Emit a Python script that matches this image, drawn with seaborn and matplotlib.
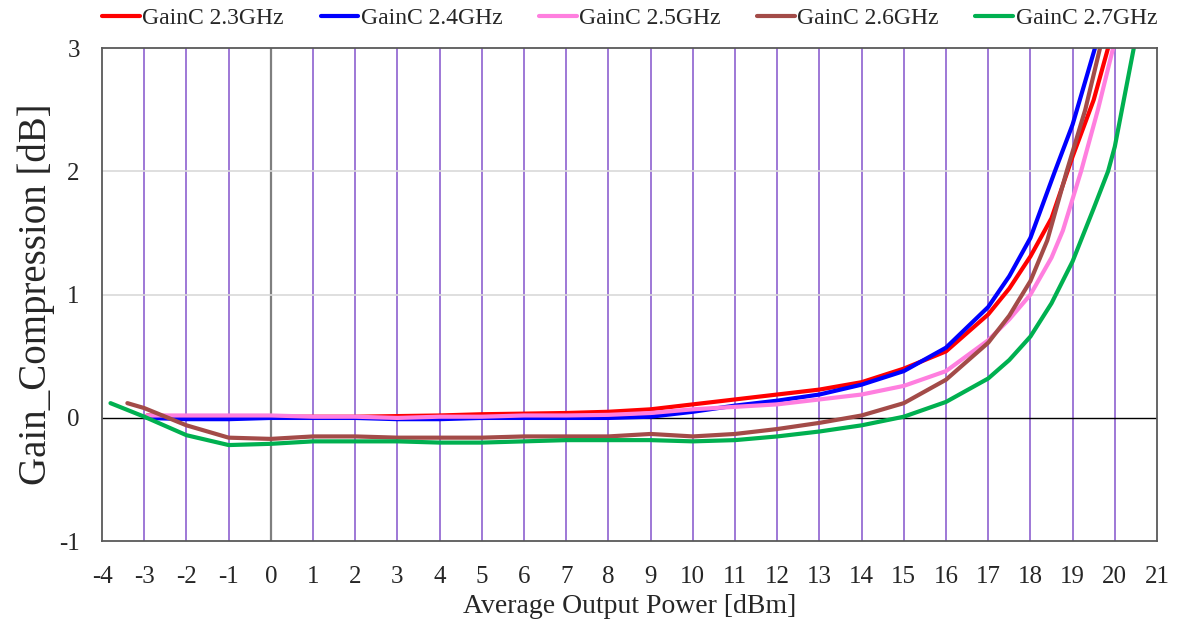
import numpy as np
import pandas as pd
import seaborn as sns
import matplotlib
matplotlib.use('Agg')
from matplotlib import pyplot as plt

# Gain compression vs average output power, one series per frequency
x_23 = [-2.93, -2, -1, 0, 1, 2, 3, 4, 5, 6, 7, 8, 9, 10, 11, 12, 13, 14, 15, 16, 17, 17.5, 18, 18.5, 19, 19.5, 19.84]
y_23 = [0.02, 0.01, 0.01, 0.01, 0.01, 0.01, 0.015, 0.02, 0.03, 0.035, 0.04, 0.05, 0.07, 0.11, 0.15, 0.19, 0.23, 0.29, 0.40, 0.54, 0.84, 1.05, 1.31, 1.62, 2.12, 2.58, 3.0]

x_24 = [-2.93, -2, -1, 0, 1, 2, 3, 4, 5, 6, 7, 8, 9, 10, 11, 12, 13, 14, 15, 16, 17, 17.5, 18, 18.58, 19, 19.53]
y_24 = [0.0, -0.01, -0.01, 0.0, 0.0, 0.0, -0.01, -0.01, 0.0, 0.0, 0.0, 0.0, 0.01, 0.05, 0.10, 0.14, 0.19, 0.27, 0.38, 0.57, 0.90, 1.15, 1.46, 2.0, 2.38, 3.0]

x_25 = [-2.93, -2, -1, 0, 1, 2, 3, 4, 5, 6, 7, 8, 9, 10, 11, 12, 13, 14, 15, 16, 17, 17.5, 18, 18.5, 18.77, 19.2, 19.6, 19.96]
y_25 = [0.02, 0.02, 0.02, 0.02, 0.01, 0.01, 0.0, 0.01, 0.01, 0.02, 0.02, 0.025, 0.04, 0.07, 0.09, 0.11, 0.15, 0.19, 0.26, 0.38, 0.63, 0.80, 1.0, 1.30, 1.52, 2.0, 2.5, 3.0]

x_26 = [-3.4, -3, -2, -1, 0, 1, 2, 3, 4, 5, 6, 7, 8, 9, 10, 11, 12, 13, 14, 15, 16, 17, 17.5, 18, 18.4, 18.86, 19.3, 19.65]
y_26 = [0.12, 0.08, -0.06, -0.16, -0.17, -0.15, -0.15, -0.16, -0.16, -0.16, -0.15, -0.15, -0.15, -0.13, -0.15, -0.13, -0.09, -0.04, 0.02, 0.12, 0.31, 0.61, 0.83, 1.11, 1.44, 2.0, 2.5, 3.0]

x_27 = [-3.8, -3, -2, -1, 0, 1, 2, 3, 4, 5, 6, 7, 8, 9, 10, 11, 12, 13, 14, 15, 16, 17, 17.5, 18, 18.5, 19, 19.5, 19.84, 20, 20.45]
y_27 = [0.12, 0.01, -0.14, -0.22, -0.21, -0.19, -0.19, -0.19, -0.20, -0.20, -0.19, -0.18, -0.18, -0.18, -0.19, -0.18, -0.15, -0.11, -0.06, 0.01, 0.13, 0.32, 0.47, 0.66, 0.93, 1.27, 1.70, 2.0, 2.2, 3.0]

series_names = ['GainC 2.3GHz', 'GainC 2.4GHz', 'GainC 2.5GHz', 'GainC 2.6GHz', 'GainC 2.7GHz']
series_colors = ['#FF0000', '#0000FF', '#FF7FDF', '#A34B48', '#00B050']

partes = []
for nome, xs, ys in zip(series_names, [x_23, x_24, x_25, x_26, x_27], [y_23, y_24, y_25, y_26, y_27]):
    partes.append(pd.DataFrame({'pout': xs, 'gc': ys, 'serie': nome}))
df = pd.concat(partes, ignore_index=True)

sns.set_style('white')
plt.rcParams['font.family'] = ['Liberation Serif', 'DejaVu Serif']
plt.rcParams['axes.unicode_minus'] = False

fig = plt.figure(figsize=(11.77, 6.33), dpi=100)
ax = fig.add_axes([0.0867, 0.145, 0.8963, 0.779])

# grid
for xv in range(-3, 21):
    ax.axvline(xv, color='#9E78D6', lw=1.4, zorder=0)
ax.axvline(0, color='#7F7F7F', lw=1.6, zorder=0)
for yv in [1, 2]:
    ax.axhline(yv, color='#D9D9D9', lw=1.2, zorder=0)
ax.axhline(0, color='black', lw=1.0, zorder=1)

sns.lineplot(data=df, x='pout', y='gc', hue='serie', palette=series_colors,
             sort=False, estimator=None, linewidth=3, ax=ax)

ax.set_xlim(-4, 21)
ax.set_ylim(-1, 3)
ax.set_xticks(range(-4, 22))
ax.set_yticks([-1, 0, 1, 2, 3])
ax.tick_params(axis='both', length=0, labelsize=18)
ax.tick_params(axis='x', pad=18)
ax.tick_params(axis='y', pad=16)
for s in ax.spines.values():
    s.set_color('#595959')
    s.set_linewidth(1.3)

ax.set_xlabel('Average Output Power [dBm]', fontsize=20, labelpad=4)
ax.set_ylabel('Gain_Compression [dB]', fontsize=28, labelpad=3)

ax.legend(loc='upper center', bbox_to_anchor=(0.535, 1.022), bbox_transform=fig.transFigure,
          ncol=5, frameon=False, fontsize=17, handlelength=1.6, handletextpad=0.1,
          columnspacing=1.55, title=None)
for h in ax.get_legend().get_lines():
    h.set_linewidth(3)

plt.savefig('out.png', dpi=100)
